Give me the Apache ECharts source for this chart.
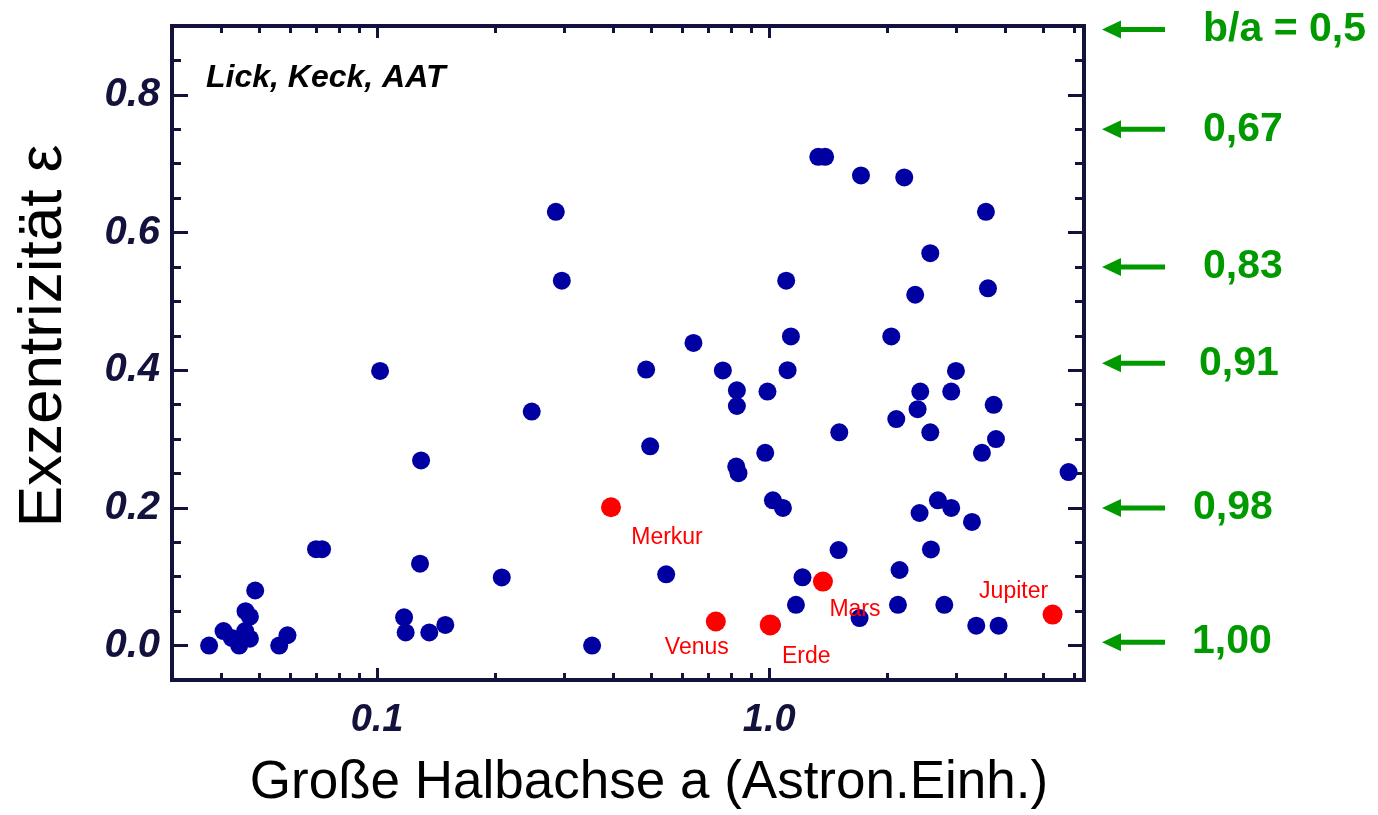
<!DOCTYPE html>
<html>
<head>
<meta charset="utf-8">
<script src="https://cdn.jsdelivr.net/npm/echarts@6/dist/echarts.min.js"></script>
<style>
html,body{margin:0;padding:0;background:#fff;}
#chart{width:1378px;height:815px;}
</style>
</head>
<body>
<div id="chart"></div>
<script>
// ---- data ----
const aBlue = [0.0373,0.0406,0.0426,0.0445,0.0461,0.0474,0.0462,0.0474,0.0489,0.0563,0.0591,0.0699,0.0724,
  0.1287,0.1172,0.1183,0.1359,0.1493,0.1018,0.1295,0.208,0.248,0.2857,0.2959,0.3535,0.4856,0.4971,0.5461,
  0.641,0.7617,0.8272,0.8272,0.824,0.835,0.990,0.977,1.022,1.084,1.016,1.105,1.136,1.114,1.170,1.216,
  1.334,1.389,1.509,1.503,1.700,1.714,2.048,2.109,2.210,2.150,2.130,2.357,2.390,2.428,2.418,2.575,2.575,
  2.585,2.693,2.796,2.912,2.912,2.994,3.289,3.373,3.487,3.570,3.613,3.735,3.787,3.846,5.80];
const eBlue = [0.000,0.021,0.011,0.000,0.021,0.010,0.050,0.042,0.080,0.000,0.015,0.140,0.140,
  0.119,0.041,0.019,0.019,0.030,0.399,0.269,0.099,0.340,0.630,0.530,0.000,0.401,0.2895,0.1035,
  0.4397,0.3997,0.3708,0.348,0.260,0.2504,0.369,0.280,0.211,0.200,0.030,0.530,0.449,0.400,0.0592,0.0991,
  0.710,0.710,0.3097,0.1387,0.040,0.683,0.449,0.329,0.680,0.1098,0.0592,0.5096,0.3434,0.369,0.1926,0.570,0.3097,
  0.1396,0.211,0.0592,0.369,0.200,0.399,0.1796,0.0289,0.280,0.630,0.519,0.3497,0.300,0.0289,0.252];

const planetNames = ['Merkur','Venus','Erde','Mars','Jupiter'];
const aPlanet = [0.395,0.731,1.006,1.371,5.281];
const ePlanet = [0.201,0.035,0.030,0.093,0.045];

const baLabels = ['b/a = 0,5','0,67','0,83','0,91','0,98','1,00'];
const baE = [0.895,0.75,0.55,0.41,0.2,0.005];

const xMajorTicks = [0.1, 1];
const xMajorLabels = ['0.1', '1.0'];
const xMinorTicks = [0.04,0.05,0.06,0.07,0.08,0.09,0.2,0.3,0.4,0.5,0.6,0.7,0.8,0.9,2,3,4,5,6];
const yMajorTicks = [0, 0.2, 0.4, 0.6, 0.8];
const yMinorTicks = [0.05,0.1,0.15,0.25,0.3,0.35,0.45,0.5,0.55,0.65,0.7,0.75,0.85];

const xMin = 0.03, xMax = 6.35, yMin = -0.05, yMax = 0.9;

// ---- layout / styles ----
const NAVY = '#12123c';
const GREEN = '#009a00';
const FONT = "'Liberation Sans', Arial, sans-serif";
const planetLabelOffset = {Merkur:[56,30], Venus:[-19,26], Erde:[36,32], Mars:[32,28], Jupiter:[-39,-23]};
const baTextX = [1203,1203,1203,1199,1193,1192];

const L0 = Math.log10(xMin), L1 = Math.log10(xMax);

function tickXAxis(pos, vals, len) {
  return {
    type: 'value', position: pos, min: L0, max: L1, gridIndex: 0,
    axisLine: {show: false, onZero: false}, splitLine: {show: false},
    axisLabel: {show: false},
    axisTick: {show: true, inside: true, length: len, customValues: vals.map(v => Math.log10(v)),
      lineStyle: {color: NAVY, width: 3}}
  };
}
function tickYAxis(pos, vals, len) {
  return {
    type: 'value', position: pos, min: yMin, max: yMax, gridIndex: 0,
    axisLine: {show: false, onZero: false}, splitLine: {show: false},
    axisLabel: {show: false},
    axisTick: {show: true, inside: true, length: len, customValues: vals,
      lineStyle: {color: NAVY, width: 3}}
  };
}

const chart = echarts.init(document.getElementById('chart'), null, {renderer: 'canvas'});

const option = {
  backgroundColor: '#ffffff',
  animation: false,
  title: {
    text: 'Lick, Keck, AAT', left: 206, top: 62, padding: 0,
    textStyle: {fontSize: 32, fontWeight: 'bold', fontStyle: 'italic', color: '#000', fontFamily: FONT}
  },
  grid: {left: 172, right: 294, top: 26, bottom: 131, show: true, borderColor: NAVY, borderWidth: 4,
    backgroundColor: 'transparent', containLabel: false},
  xAxis: [
    {
      type: 'log', logBase: 10, min: xMin, max: xMax, position: 'bottom',
      axisLine: {show: false, onZero: false}, axisTick: {show: false}, splitLine: {show: false}, minorTick: {show: false},
      axisLabel: {
        show: true, margin: 22, color: NAVY, fontSize: 38, fontWeight: 'bold', fontStyle: 'italic', fontFamily: FONT,
        showMinLabel: false, showMaxLabel: false,
        formatter: function (v) {
          for (let i = 0; i < xMajorTicks.length; i++) {
            if (Math.abs(v - xMajorTicks[i]) < 1e-9 * Math.max(1, xMajorTicks[i])) return xMajorLabels[i];
          }
          return '';
        }
      },
      name: 'Große Halbachse a (Astron.Einh.)', nameLocation: 'middle', nameGap: 77,
      nameTextStyle: {fontSize: 53, color: '#000', fontFamily: FONT, padding: [0, 0, 0, 42]}
    },
    tickXAxis('bottom', xMajorTicks, 12),
    tickXAxis('bottom', xMinorTicks, 7),
    tickXAxis('top', xMajorTicks, 12),
    tickXAxis('top', xMinorTicks, 7)
  ],
  yAxis: [
    {
      type: 'value', min: yMin, max: yMax, position: 'left',
      axisLine: {show: false, onZero: false}, splitLine: {show: false},
      axisTick: {show: true, inside: true, length: 16, customValues: yMajorTicks, lineStyle: {color: NAVY, width: 3}},
      axisLabel: {
        show: true, customValues: yMajorTicks, margin: 12, color: NAVY, fontSize: 40, fontWeight: 'bold',
        fontStyle: 'italic', fontFamily: FONT,
        formatter: v => Number(v).toFixed(1)
      },
      name: 'Exzentrizität ε', nameLocation: 'middle', nameGap: 97,
      nameTextStyle: {fontSize: 62, color: '#000', fontFamily: FONT, padding: [0, 0, 0, 34]}
    },
    tickYAxis('left', yMinorTicks, 9),
    tickYAxis('right', yMajorTicks, 16),
    tickYAxis('right', yMinorTicks, 9)
  ],
  series: [
    {
      name: 'Exoplaneten', type: 'scatter', xAxisIndex: 0, yAxisIndex: 0,
      symbol: 'circle', symbolSize: 18,
      itemStyle: {color: '#0000a2', opacity: 1},
      data: aBlue.map((a, i) => [a, eBlue[i]]),
      z: 2
    },
    {
      name: 'Sonnensystem', type: 'scatter', xAxisIndex: 0, yAxisIndex: 0,
      symbol: 'circle',
      itemStyle: {color: '#ff0000', opacity: 1},
      data: planetNames.map((n, i) => ({
        name: n, value: [aPlanet[i], ePlanet[i]],
        symbolSize: n === 'Erde' ? 21 : 20,
        label: {show: true, formatter: n, position: 'inside', offset: planetLabelOffset[n],
          color: '#ff0000', fontSize: 23, fontFamily: FONT}
      })),
      z: 3
    },
    {
      name: 'b/a', type: 'custom', xAxisIndex: 0, yAxisIndex: 0, clip: false, silent: true,
      data: baE.map(e => [1, e]),
      renderItem: function (params, api) {
        const i = params.dataIndex;
        const y = api.coord([1, api.value(1)])[1];
        return {
          type: 'group',
          children: [
            {type: 'line', shape: {x1: 1116, y1: y, x2: 1165, y2: y},
              style: {stroke: GREEN, lineWidth: 5}},
            {type: 'polygon', shape: {points: [[1102, y], [1121, y - 9], [1121, y + 9]]},
              style: {fill: GREEN}},
            {type: 'text', x: baTextX[i], y: y,
              style: {text: baLabels[i], fill: GREEN, fontSize: 41, fontWeight: 'bold', fontFamily: FONT,
                align: 'left', verticalAlign: 'middle'}}
          ]
        };
      },
      z: 5
    }
  ]
};
chart.setOption(option);
</script>
</body>
</html>
